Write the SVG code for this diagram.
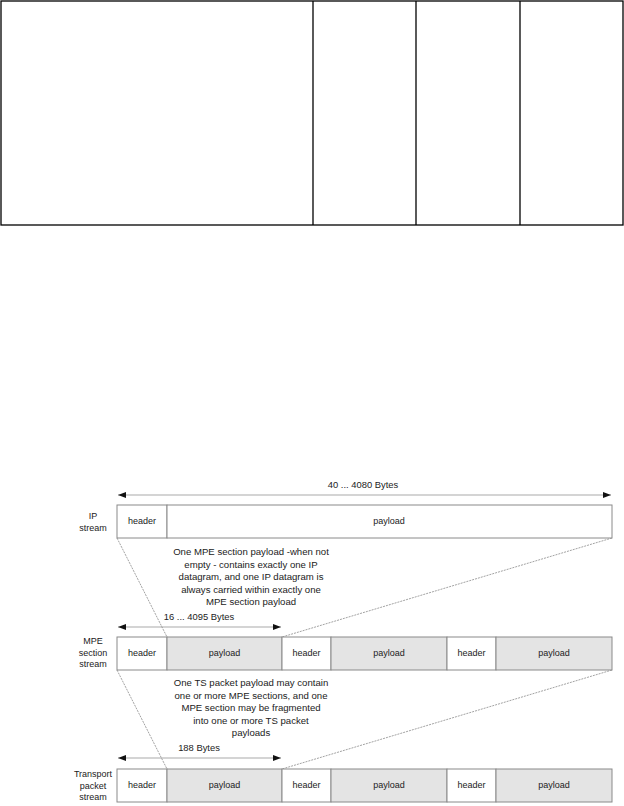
<svg xmlns="http://www.w3.org/2000/svg" width="624" height="806" viewBox="0 0 624 806">
<style>
text{font-family:"Liberation Sans",Arial,sans-serif;font-size:9px;fill:#222;text-anchor:middle}
.dl{font-size:9.4px}
.nt{font-size:9.6px}
.tbl{fill:none;stroke:#000;stroke-width:1.3}
.box{stroke:#8a8a8a;stroke-width:1}
.h{fill:#fff}
.p{fill:#e4e4e4}
.pw{fill:#fff}
.dim{stroke:#aaa;stroke-width:1.2;fill:none;marker-start:url(#a0);marker-end:url(#a1)}
.lead{stroke:#8a8a8a;stroke-width:0.8;stroke-dasharray:2 1;fill:none}
</style>
<defs>
<marker id="a1" markerWidth="8" markerHeight="6" refX="8" refY="3" orient="auto" markerUnits="userSpaceOnUse"><path d="M0,0 L8,3 L0,6 Z" fill="#111"/></marker>
<marker id="a0" markerWidth="8" markerHeight="6" refX="0" refY="3" orient="auto" markerUnits="userSpaceOnUse"><path d="M8,0 L0,3 L8,6 Z" fill="#111"/></marker>
</defs>
<g id="table">
<rect class="tbl" x="1" y="1" width="622" height="224"/>
<line class="tbl" x1="313" y1="1" x2="313" y2="225"/>
<line class="tbl" x1="416" y1="1" x2="416" y2="225"/>
<line class="tbl" x1="520" y1="1" x2="520" y2="225"/>
</g>
<g id="connectors">
<path class="dim" d="M118,495 H611"/>
<path class="dim" d="M118,627 H281"/>
<path class="dim" d="M118,758 H281"/>
<path class="lead" d="M117,538 L167,637"/>
<path class="lead" d="M612,538 L282,637"/>
<path class="lead" d="M117,670 L167,769"/>
<path class="lead" d="M612,670 L282,769"/>
</g>
<g id="ip-stream">
<rect class="box h" x="117" y="505" width="50" height="33"/>
<rect class="box pw" x="167" y="505" width="445" height="33"/>
<text x="142" y="524">header</text>
<text x="389" y="524">payload</text>
<text x="93" y="519">IP</text>
<text x="93" y="531">stream</text>
<text class="dl" x="363" y="488">40 ... 4080 Bytes</text>
</g>
<g id="ip-note">
<text class="nt" x="251" y="555">One MPE section payload -when not</text>
<text class="nt" x="251" y="567.5">empty - contains exactly one IP</text>
<text class="nt" x="251" y="580">datagram, and one IP datagram is</text>
<text class="nt" x="251" y="592.5">always carried within exactly one</text>
<text class="nt" x="251" y="605">MPE section payload</text>
</g>
<g id="mpe-stream">
<rect class="box h" x="117" y="637" width="50" height="33"/>
<rect class="box p" x="167" y="637" width="115" height="33"/>
<rect class="box h" x="282" y="637" width="49" height="33"/>
<rect class="box p" x="331" y="637" width="116" height="33"/>
<rect class="box h" x="447" y="637" width="49" height="33"/>
<rect class="box p" x="496" y="637" width="116" height="33"/>
<text x="142" y="656">header</text>
<text x="224.5" y="656">payload</text>
<text x="306.5" y="656">header</text>
<text x="389" y="656">payload</text>
<text x="471.5" y="656">header</text>
<text x="554" y="656">payload</text>
<text x="93" y="644">MPE</text>
<text x="93" y="655.5">section</text>
<text x="93" y="667">stream</text>
<text class="dl" x="199" y="620">16 ... 4095 Bytes</text>
</g>
<g id="mpe-note">
<text class="nt" x="251" y="686">One TS packet payload may contain</text>
<text class="nt" x="251" y="698.5">one or more MPE sections, and one</text>
<text class="nt" x="251" y="711">MPE section may be fragmented</text>
<text class="nt" x="251" y="723.5">into one or more TS packet</text>
<text class="nt" x="251" y="736">payloads</text>
</g>
<g id="transport-stream">
<rect class="box h" x="117" y="769" width="50" height="33"/>
<rect class="box p" x="167" y="769" width="115" height="33"/>
<rect class="box h" x="282" y="769" width="49" height="33"/>
<rect class="box p" x="331" y="769" width="116" height="33"/>
<rect class="box h" x="447" y="769" width="49" height="33"/>
<rect class="box p" x="496" y="769" width="116" height="33"/>
<text x="142" y="788">header</text>
<text x="224.5" y="788">payload</text>
<text x="306.5" y="788">header</text>
<text x="389" y="788">payload</text>
<text x="471.5" y="788">header</text>
<text x="554" y="788">payload</text>
<text x="93" y="777">Transport</text>
<text x="93" y="788.5">packet</text>
<text x="93" y="800">stream</text>
<text class="dl" x="199" y="751">188 Bytes</text>
</g>
</svg>
